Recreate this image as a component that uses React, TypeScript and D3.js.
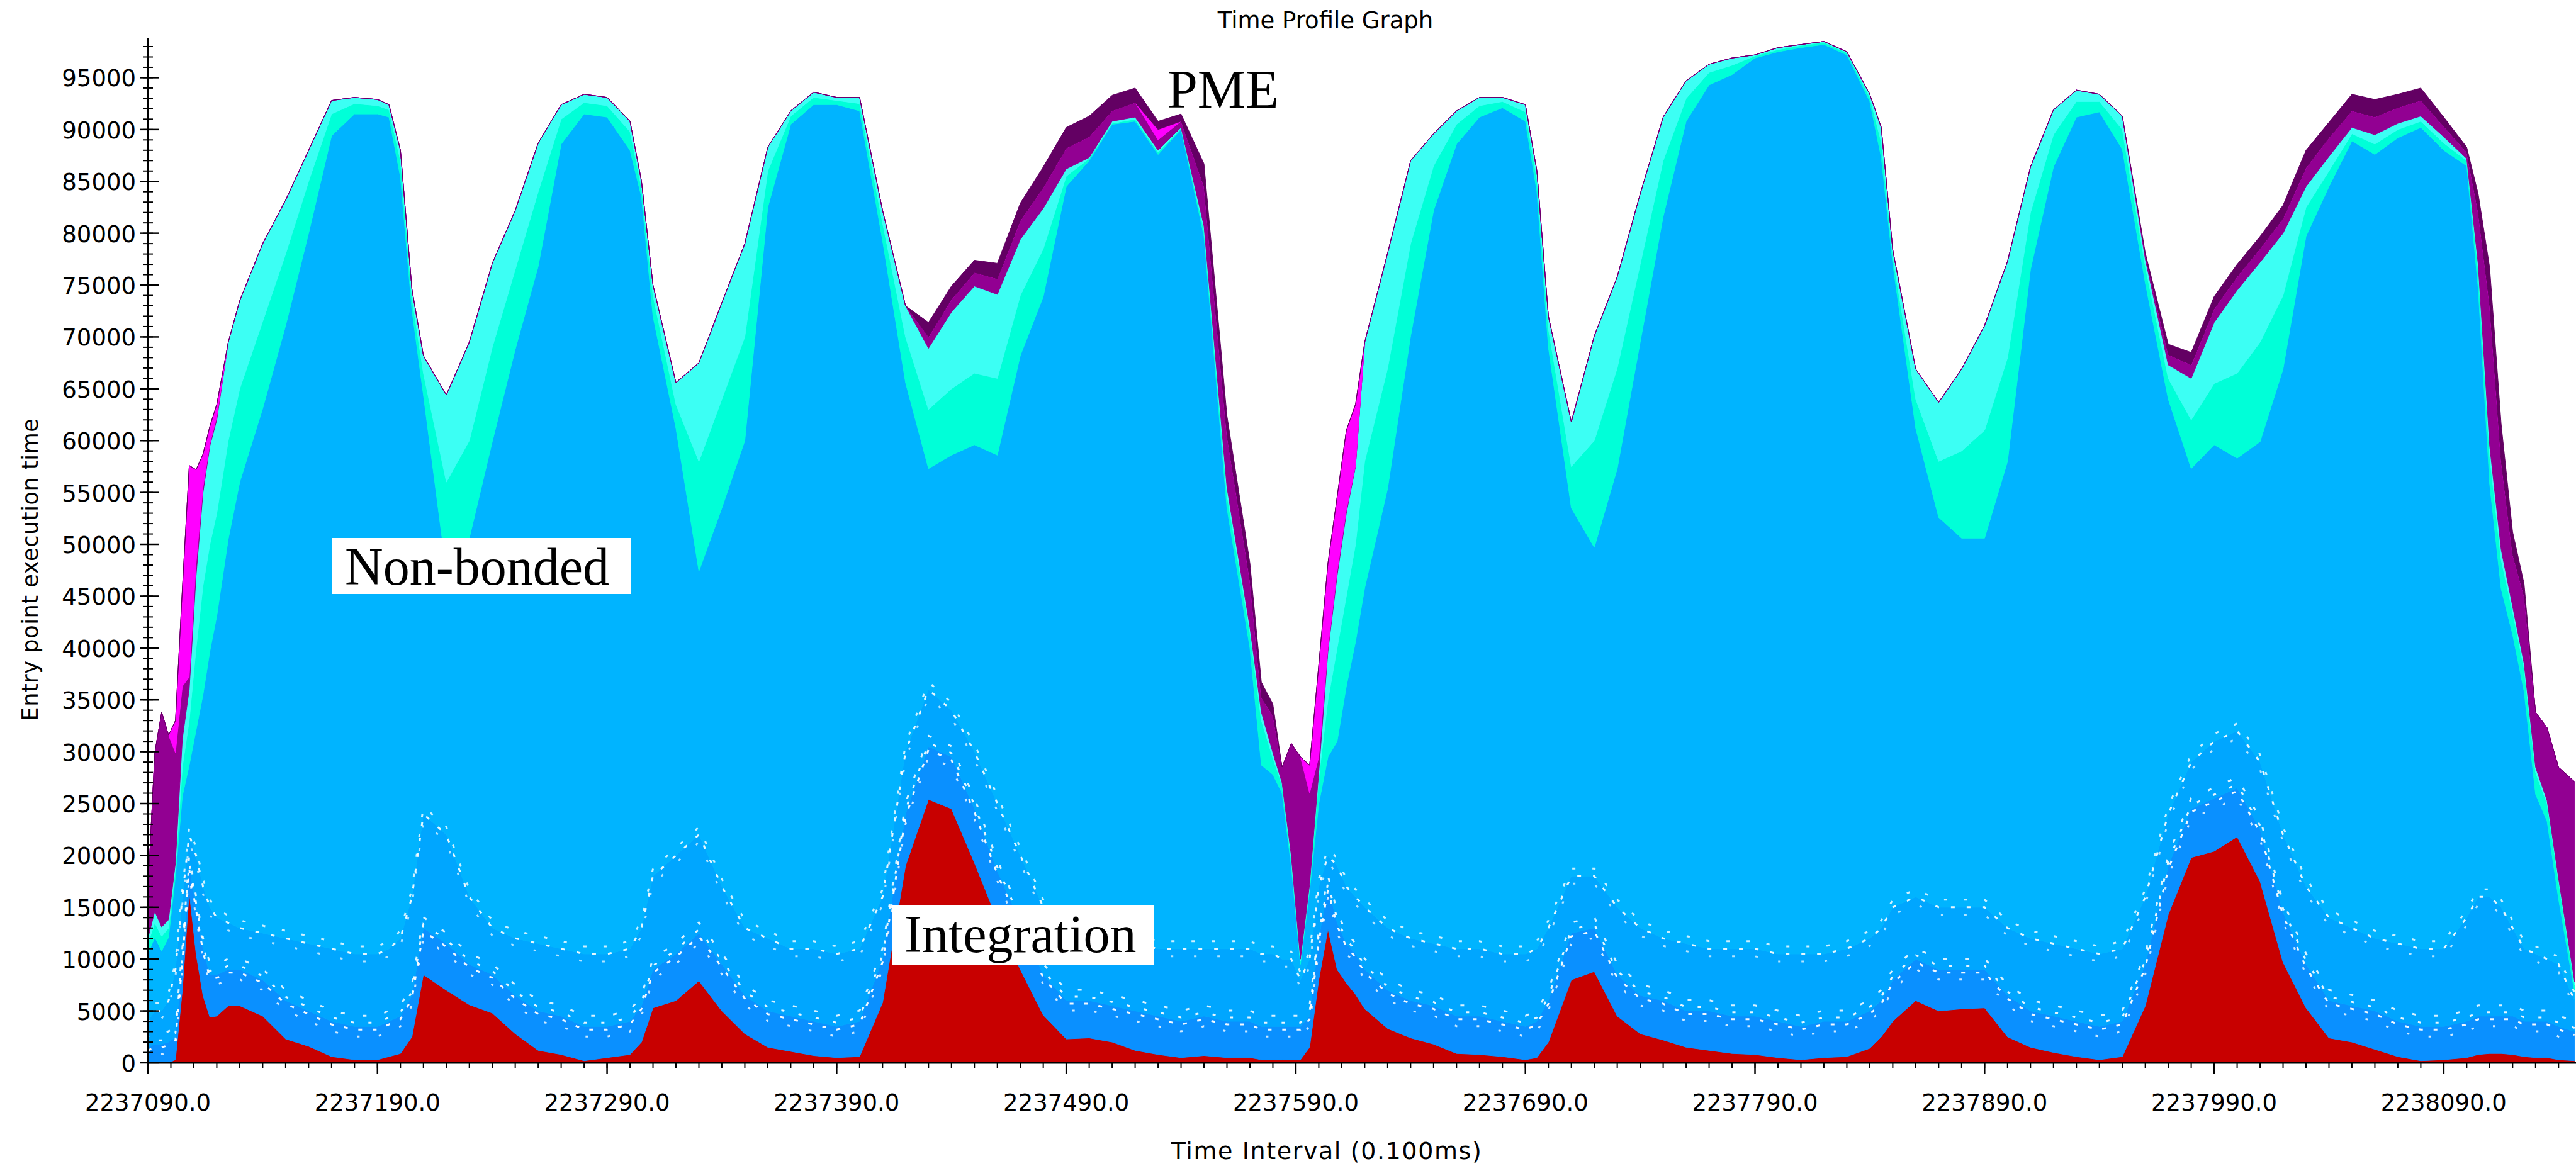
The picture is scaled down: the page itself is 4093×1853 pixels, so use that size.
import React from 'react';
import * as d3 from 'd3';

const WIDTH = 4093;
const HEIGHT = 1853;
const TIME_START = 2237090;
const TIME_END = 2238147.6;
const Y_MAX = 98850;

// time bins (offset from 2237090, in 0.1 ms units)
const binOffsets = [
  0, 3, 6, 9, 12, 15, 18, 21, 24, 27, 30, 35, 40,
  50, 60, 70, 80, 90, 100,
  105,
  110, 115, 120,
  130, 140, 150, 160, 170, 180, 190, 200, 210,
  215,
  220, 230, 240, 250, 260, 270, 280, 290, 300, 310, 320, 330, 340, 350, 360, 370, 380, 390, 400, 410, 420, 430, 440, 450, 460, 470, 480,
  485, 490, 494, 498, 502, 506, 510, 514, 518, 522, 526, 530,
  540, 550, 560, 570, 580, 590, 600,
  605,
  610, 620, 630, 640, 650, 660, 670, 680, 690, 700, 710, 720, 730, 740, 750,
  755,
  760, 770, 780, 790, 800, 810, 820, 830, 840, 850, 860, 870, 880, 890, 900, 910, 920, 930, 940, 950, 960, 970, 980, 990, 1000, 1010,
  1015, 1020, 1025, 1030, 1035, 1040, 1045, 1050,
  1057,
];

// series values, in thousands of execution-time units per bin
const integration = [
  0, 0, 0, 0, 0.3, 7, 16.5, 10.5, 6.5, 4.4, 4.5, 5.5, 5.5,
  4.5, 2.3, 1.6, 0.6, 0.3, 0.3,
  0.6,
  0.9, 2.5, 8.5,
  7, 5.6, 4.8, 2.8, 1.2, 0.8, 0.2, 0.5, 0.8,
  2.0,
  5.3, 6.0, 7.9, 5.0, 2.8, 1.5, 1.1, 0.7, 0.5, 0.6, 5.8, 19, 25.4, 24.5, 19.3, 13.8, 9, 4.6, 2.3, 2.4, 2.0, 1.2, 0.8, 0.5, 0.7, 0.5, 0.5,
  0.3, 0.3, 0.3, 0.3, 0.3, 1.5, 8, 12.9, 9, 7.7, 6.6, 5.2,
  3.3, 2.4, 1.8, 0.9, 0.8, 0.6, 0.3,
  0.5,
  2.0, 8.0, 8.8, 4.5, 2.8, 2.2, 1.5, 1.2, 0.9, 0.8, 0.5, 0.3, 0.5, 0.6, 1.4,
  2.5,
  4.0, 6.0, 5.0, 5.2, 5.3, 2.5, 1.5, 1.0, 0.6, 0.3, 0.6, 5.5, 14.3, 19.8, 20.4, 21.8, 17.5, 9.7, 5.3, 2.4, 2.0, 1.3, 0.6, 0.2, 0.3, 0.5,
  0.8, 0.9, 0.9, 0.8, 0.6, 0.5, 0.5, 0.3,
  0.2,
];

const nonbondedDark = [
  1.5, 1.8, 1.8, 2.0, 2.2, 3, 2.5, 4.5, 4.5, 4.1, 4.0, 3.5, 3.5,
  3.5, 3.7, 3.4, 3.4, 3.2, 3.2,
  3.4,
  3.6, 4.0, 4.5,
  4.5, 3.9, 3.7, 3.7, 3.8, 3.7, 3.3, 3.0, 3.2,
  3.5,
  3.7, 4.5, 4.6, 4.5, 3.7, 3.5, 3.4, 3.3, 3.0, 3.4, 4.2, 5, 5.1, 5.0, 5.2, 4.7, 4.5, 3.9, 3.7, 3.6, 3.5, 3.8, 3.7, 3.5, 3.8, 3.5, 3.5,
  3.2, 3.2, 3.2, 3.2, 3.2, 3.0, 4, 4.1, 4.5, 3.8, 3.9, 3.8,
  3.7, 3.6, 3.7, 3.6, 3.7, 3.4, 3.2,
  3.5,
  4.0, 4.5, 4.2, 4.0, 3.7, 3.8, 3.5, 3.8, 3.6, 3.7, 3.5, 3.2, 3.5, 3.4, 3.6,
  3.5,
  4.0, 4.0, 4.0, 3.8, 3.7, 4.0, 3.5, 3.5, 3.4, 3.2, 3.4, 4.0, 4.7, 4.7, 5.1, 4.7, 5.0, 4.8, 4.2, 3.6, 3.5, 3.7, 3.4, 3.3, 3.2, 3.5,
  3.7, 3.6, 3.6, 3.7, 3.4, 3.5, 3.5, 3.2,
  2.8,
];

const nonbondedMid = [
  2.5, 3.2, 3.2, 4.0, 6.5, 6, 3, 5, 6, 6.5, 5.5, 4.5, 4.0,
  4.5, 6.0, 6.5, 7.0, 7.0, 7.0,
  7.0,
  7.5, 9.5, 11,
  10.5, 6.5, 4.5, 5.5, 6.5, 6.5, 7.0, 7.0, 7.0,
  7.5,
  9.0, 9.5, 9.5, 7.5, 6.5, 7.0, 6.5, 7.0, 7.0, 7.0, 6.0, 6, 5.5, 4.5, 5.5, 6.5, 6.5, 6.5, 7.0, 6.5, 6.5, 6.5, 6.5, 7.0, 6.5, 7.0, 7.0,
  7.0, 7.0, 6.5, 6.5, 4.5, 5.5, 5, 3.0, 5.5, 5.5, 5.5, 6.0,
  6.0, 6.0, 6.0, 6.5, 6.5, 6.5, 7.0,
  7.0,
  7.0, 5.5, 5.0, 6.5, 6.5, 6.0, 6.5, 6.0, 6.5, 6.5, 6.5, 7.0, 6.5, 7.0, 7.0,
  7.0,
  7.0, 6.0, 6.0, 6.0, 6.0, 6.5, 7.0, 7.0, 7.0, 7.0, 7.0, 6.5, 5.0, 4.5, 5.5, 5.5, 6.5, 7.5, 7.5, 8.0, 7.5, 7.0, 7.5, 7.5, 7.5, 10.0,
  11.5, 11.5, 10.5, 8.5, 7.0, 6.5, 6.0, 6.0,
  3.0,
];

const nonbondedLight = [
  6.5, 7.1, 5.8, 6.1, 9.0, 9.7, 6.7, 12.1, 18.5, 24.7, 29.1, 37.0, 43.0,
  50.6, 59.1, 68.5, 78.4, 81.0, 81.0,
  80.2,
  73.4, 56.6, 40.4,
  25.4, 34.6, 46.9, 56.8, 65.3, 77.6, 81.0, 80.7, 77.0,
  70.5,
  54.0, 41.2, 25.4, 36.5, 47.0, 70.5, 79.5, 81.4, 81.9, 80.8, 63.3, 35.6, 21.3, 24.6, 29.6, 33.6, 48.2, 58.9, 71.5, 74.5, 78.5, 79.3, 76.6, 79.0, 68.7, 42.5, 29.0,
  18.2, 17.3, 16.0, 9.0, 1.5, 6.6, 8, 9.5, 12, 19.3, 24.6, 30.8,
  42.4, 58.1, 70.7, 77.6, 80.2, 81.6, 80.3,
  73.0,
  56.0, 35.5, 31.7, 42.3, 56.5, 69.6, 79.3, 83.3, 84.3, 85.9, 87.0, 87.4, 87.7, 86.2, 80.7,
  74.3,
  62.1, 45.2, 37.6, 35.6, 35.6, 45.0, 64.5, 74.9, 80.2, 81.2, 77.1, 59.2, 40.0, 28.3, 28.6, 26.3, 30.9, 44.9, 62.7, 70.5, 75.9, 75.6, 77.7, 79.2, 77.0, 72.5,
  58.7, 39.8, 30.7, 28.3, 24.8, 15.4, 13.3, 6.3,
  0.8,
];

const aqua = [
  1.0, 1.4, 1.4, 0.9, 0.8, 2.8, 4.3, 7.9, 10.5, 10.3, 9.9, 9.5, 9.0,
  8.4, 6.9, 5.0, 2.1, 1.0, 0.8,
  0.7,
  1.6, 1.2, 2.1,
  8.6, 9.4, 9.1, 7.7, 7.2, 2.4, 1.1, 1.1, 1.8,
  0.9,
  2.0, 2.3, 10.6, 10.5, 10.0, 3.5, 0.8, 0.7, 0.4, 0.7, 1.7, 4.4, 5.7, 6.4, 6.9, 7.4, 5.8, 4.6, 1.0, 0.2, 0.1, 0.2, 0.2, 0.1, 0.6, 1.3, 1.5,
  4.3, 1.6, 0.8, 0.6, 0.3, 0.4, 2.5, 5.5, 9, 8.7, 9.4, 12.2,
  11.6, 8.9, 4.3, 1.9, 1.1, 0.6, 0.9,
  1.2,
  1.8, 4.0, 10.3, 9.7, 7.5, 5.4, 2.2, 1.2, 0.9, 0.2, 0.2, 0.2, 0.2, 0.2, 0.4,
  1.5,
  0.7, 2.8, 5.4, 8.4, 10.4, 10.0, 5.5, 3.1, 1.5, 1.0, 1.9, 1.6, 2.0, 4.7, 5.9, 8.2, 9.6, 7.1, 2.8, 1.5, 0.7, 1.0, 0.8, 0.6, 0.7, 0.5,
  1.8, 2.7, 2.8, 2.2, 2.2, 2.1, 1.7, 1.7,
  0.7,
];

const cyan = [
  0.5, 1.1, 0.9, 0.8, 0.5, 2.7, 3.0, 7.0, 9.0, 9.5, 9.0, 9.5, 8.5,
  7.5, 5.2, 3.0, 1.3, 0.6, 0.6,
  0.5,
  1.0, 0.8, 1.7,
  8.4, 9.5, 8.1, 5.7, 4.7, 1.4, 0.8, 0.8, 1.0,
  0.6,
  1.0, 2.1, 9.5, 9.3, 9.0, 2.3, 0.5, 0.5, 0.3, 0.6, 1.2, 3.0, 5.9, 7.4, 8.4, 8.1, 5.4, 3.9, 0.7, 0.1, 0.2, 0.2, 0.2, 0.1, 0.4, 0.7, 0.5,
  0.8, 0.5, 0.2, 0.4, 0.2, 0.2, 0.5, 4.7, 7, 8.0, 7.5, 11.5,
  11.1, 8.0, 3.1, 1.3, 0.8, 0.4, 0.7,
  0.8,
  1.2, 4.3, 10.1, 8.8, 6.8, 4.2, 1.7, 0.8, 0.7, 0.1, 0.2, 0.1, 0.1, 0.1, 0.3,
  1.4,
  0.6, 2.9, 5.7, 7.9, 10.1, 9.3, 4.4, 2.4, 1.1, 0.7, 1.3, 0.7, 1.3, 4.0, 5.9, 8.0, 7.7, 6.0, 2.0, 1.4, 0.6, 0.9, 0.6, 0.5, 0.6, 0.2,
  0.5, 1.0, 1.0, 0.5, 0.5, 0.5, 0.3, 0.3,
  0.3,
];

const pmePurple = [
  4.5, 15.3, 20.7, 17.8, 10.6, 5.1, 1.2, 1.2, 0.5, 0.2, 0.3, 0, 0,
  0, 0, 0, 0, 0, 0,
  0,
  0, 0, 0,
  0, 0, 0, 0, 0, 0, 0, 0, 0,
  0,
  0, 0, 0, 0, 0, 0, 0, 0, 0, 0, 0, 0, 1.1, 1.2, 1.3, 1.5, 1.8, 2.0, 2.0, 2.0, 1.0, 1.4, 1.0, 0.6, 3.8, 5.0, 4.5,
  1.4, 3.6, 1.5, 10.8, 19.5, 8.8, 1.5, 0.3, 0.4, 0.3, 0.1, 0,
  0, 0, 0, 0, 0, 0, 0,
  0,
  0, 0, 0, 0, 0, 0, 0, 0, 0, 0, 0, 0, 0, 0, 0,
  0,
  0, 0, 0, 0, 0, 0, 0, 0, 0, 0, 0, 0.3, 1.0, 1.3, 1.3, 1.3, 1.3, 1.4, 1.8, 1.8, 1.6, 1.7, 1.5, 1.5, 1.0, 0.6,
  5.0, 13.5, 8.5, 5.0, 6.5, 5.3, 7.0, 10.7,
  19.3,
];

const pmeMagenta = [
  0, 0, 0, 0, 3.1, 9.4, 20.4, 9.0, 3.2, 1.7, 1.2, 0, 0,
  0, 0, 0, 0, 0, 0,
  0,
  0, 0, 0,
  0, 0, 0, 0, 0, 0, 0, 0, 0,
  0,
  0, 0, 0, 0, 0, 0, 0, 0, 0, 0, 0, 0, 0, 0, 0, 0, 0, 0, 0, 0, 0, 0, 1.0, 0, 0, 0, 0,
  0, 0, 0, 0, 0, 2.7, 8.9, 8.2, 7.2, 7.7, 5.9, 0,
  0, 0, 0, 0, 0, 0, 0,
  0,
  0, 0, 0, 0, 0, 0, 0, 0, 0, 0, 0, 0, 0, 0, 0,
  0,
  0, 0, 0, 0, 0, 0, 0, 0, 0, 0, 0, 0, 0, 0, 0, 0, 0, 0, 0, 0, 0, 0, 0, 0, 0, 0,
  0, 0, 0, 0, 0, 0, 0, 0,
  0,
];

const pmeDark = [
  0, 0, 0, 0, 0, 0, 0, 0, 0, 0, 0, 0, 0,
  0, 0, 0, 0, 0, 0,
  0,
  0, 0, 0,
  0, 0, 0, 0, 0, 0, 0, 0, 0,
  0,
  0, 0, 0, 0, 0, 0, 0, 0, 0, 0, 0, 0, 1.4, 1.3, 1.2, 1.5, 1.7, 2.0, 2.0, 2.0, 1.5, 1.4, 0.8, 0.7, 2.2, 1.9, 1.7,
  1.5, 1.1, 0, 0, 0, 0, 0, 0, 0, 0, 0, 0,
  0, 0, 0, 0, 0, 0, 0,
  0,
  0, 0, 0, 0, 0, 0, 0, 0, 0, 0, 0, 0, 0, 0, 0,
  0,
  0, 0, 0, 0, 0, 0, 0, 0, 0, 0, 0, 0.3, 1.0, 1.2, 1.2, 1.2, 1.2, 1.3, 1.7, 1.5, 1.6, 1.7, 1.3, 1.2, 0.9, 0.5,
  1.8, 3.7, 3.6, 2.2, 1.2, 0, 0, 0,
  0,
];

const xTickLabels = [
  '2237090.0', '2237190.0', '2237290.0', '2237390.0', '2237490.0', '2237590.0',
  '2237690.0', '2237790.0', '2237890.0', '2237990.0', '2238090.0',
];
const yTickValues = [
  0, 5000, 10000, 15000, 20000, 25000, 30000, 35000, 40000, 45000,
  50000, 55000, 60000, 65000, 70000, 75000, 80000, 85000, 90000, 95000,
];

const seriesDefs = [
  { key: 'Integration', values: integration, color: '#C80000' },
  { key: 'Non-bonded 1', values: nonbondedDark, color: '#0A90FF' },
  { key: 'Non-bonded 2', values: nonbondedMid, color: '#00A6FF' },
  { key: 'Non-bonded 3', values: nonbondedLight, color: '#00B4FF' },
  { key: 'Bonded 1', values: aqua, color: '#00FFD8' },
  { key: 'Bonded 2', values: cyan, color: '#3CFFF4' },
  { key: 'PME 1', values: pmePurple, color: '#920092' },
  { key: 'PME 2', values: pmeMagenta, color: '#FF00FF' },
  { key: 'PME 3', values: pmeDark, color: '#630063' },
];

// decorative white speckle rows that follow the lower band edges
const speckles = [
  { layer: 1, dy: 5, dash: '6 17', offset: 0, opacity: 0.95 },
  { layer: 1, dy: -6, dash: '5 23', offset: 9, opacity: 0.9 },
  { layer: 1, dy: -17, dash: '6 29', offset: 4, opacity: 0.85 },
  { layer: 1, dy: 16, dash: '4 31', offset: 13, opacity: 0.8 },
  { layer: 2, dy: 0, dash: '6 19', offset: 3, opacity: 0.9 },
  { layer: 2, dy: -12, dash: '5 27', offset: 11, opacity: 0.8 },
  { layer: 2, dy: 12, dash: '4 33', offset: 6, opacity: 0.7 },
];

const AXIS_FONT = '"DejaVu Sans", "Noto Sans", sans-serif';
const LABEL_FONT = '"Liberation Serif", "DejaVu Serif", serif';

export default function App() {
  const x = d3.scaleLinear().domain([TIME_START, TIME_END]).range([235, 4093]);
  const y = d3.scaleLinear().domain([0, Y_MAX]).range([1689, 60]);

  const rows = binOffsets.map((o, i) => {
    const r: any = { time: TIME_START + o };
    seriesDefs.forEach((s) => {
      r[s.key] = s.values[i] * 1000;
    });
    return r;
  });

  const keys = seriesDefs.map((s) => s.key);
  const layers = d3.stack<any>().keys(keys)(rows);

  const area = d3
    .area<any>()
    .x((d) => x(d.data.time))
    .y0((d) => y(d[0]))
    .y1((d) => y(d[1]));
  const topLine = d3
    .line<any>()
    .x((d) => x(d.data.time))
    .y((d) => y(d[1]));

  const xMajor = d3.range(0, 11).map((i) => TIME_START + i * 100);
  const xMinor = d3.range(0, 106).map((i) => TIME_START + i * 10);
  const yMinor = d3.range(0, 99).map((i) => i * 1000);

  const x0 = x(TIME_START);
  const yBase = y(0);

  return (
    <svg
      width={WIDTH}
      height={HEIGHT}
      style={{ position: 'absolute', left: 0, top: 0, background: '#fff' }}
    >
      <rect x={0} y={0} width={WIDTH} height={HEIGHT} fill="#fff" />

      <text x={2106} y={45} textAnchor="middle" fontFamily={AXIS_FONT} fontSize={37} fill="#000">
        Time Profile Graph
      </text>

      <defs>
        <clipPath id="plotClip">
          <rect x={x0} y={0} width={WIDTH - x0} height={yBase} />
        </clipPath>
      </defs>

      <g clipPath="url(#plotClip)">
        {layers.map((layer, i) => (
          <path
            key={layer.key}
            d={area(layer) || ''}
            fill={seriesDefs[i].color}
            stroke={seriesDefs[i].color}
            strokeWidth={1}
          />
        ))}
        <g fill="none" stroke="#fff" strokeWidth={3}>
          {speckles.map((s, i) => (
            <path
              key={'sp' + i}
              d={topLine(layers[s.layer]) || ''}
              transform={`translate(0,${s.dy})`}
              strokeDasharray={s.dash}
              strokeDashoffset={s.offset}
              opacity={s.opacity}
            />
          ))}
        </g>
      </g>

      {/* y axis */}
      <g stroke="#000" strokeWidth={2.5}>
        <line x1={x0} x2={x0} y1={60} y2={yBase} />
        {yMinor.map((v) => (
          <line key={'ym' + v} x1={x0 - 7} x2={x0 + 8} y1={y(v)} y2={y(v)} strokeWidth={2} />
        ))}
        {yTickValues.map((v) => (
          <line key={'yM' + v} x1={x0 - 13} x2={x0 + 17} y1={y(v)} y2={y(v)} />
        ))}
      </g>
      <g fontFamily={AXIS_FONT} fontSize={37} fill="#000" textAnchor="end">
        {yTickValues.map((v) => (
          <text key={'yl' + v} x={216} y={y(v) + 14}>
            {v}
          </text>
        ))}
      </g>
      <text
        transform={`translate(60, 905) rotate(-90)`}
        textAnchor="middle"
        fontFamily={AXIS_FONT}
        fontSize={35}
        letterSpacing={0.6}
        fill="#000"
      >
        Entry point execution time
      </text>

      {/* x axis */}
      <g stroke="#000" strokeWidth={2.5}>
        <line x1={x0} x2={WIDTH} y1={yBase} y2={yBase} strokeWidth={3} />
        {xMinor.map((v) => (
          <line key={'xm' + v} x1={x(v)} x2={x(v)} y1={yBase} y2={yBase + 9} strokeWidth={2} />
        ))}
        {xMajor.map((v) => (
          <line key={'xM' + v} x1={x(v)} x2={x(v)} y1={yBase} y2={yBase + 17} />
        ))}
      </g>
      <g fontFamily={AXIS_FONT} fontSize={37} fill="#000" textAnchor="middle">
        {xMajor.map((v, i) => (
          <text key={'xl' + v} x={x(v)} y={1765}>
            {xTickLabels[i]}
          </text>
        ))}
      </g>
      <text
        x={2108}
        y={1842}
        textAnchor="middle"
        fontFamily={AXIS_FONT}
        fontSize={38}
        letterSpacing={1.6}
        fill="#000"
      >
        Time Interval (0.100ms)
      </text>

      {/* annotations */}
      <text x={1855} y={171} fontFamily={LABEL_FONT} fontSize={86} fill="#000">
        PME
      </text>
      <rect x={528} y={855} width={475} height={89} fill="#fff" />
      <text x={548} y={929} fontFamily={LABEL_FONT} fontSize={84} fill="#000">
        Non-bonded
      </text>
      <rect x={1417} y={1439} width={417} height={95} fill="#fff" />
      <text x={1437} y={1513} fontFamily={LABEL_FONT} fontSize={84} fill="#000">
        Integration
      </text>
    </svg>
  );
}
